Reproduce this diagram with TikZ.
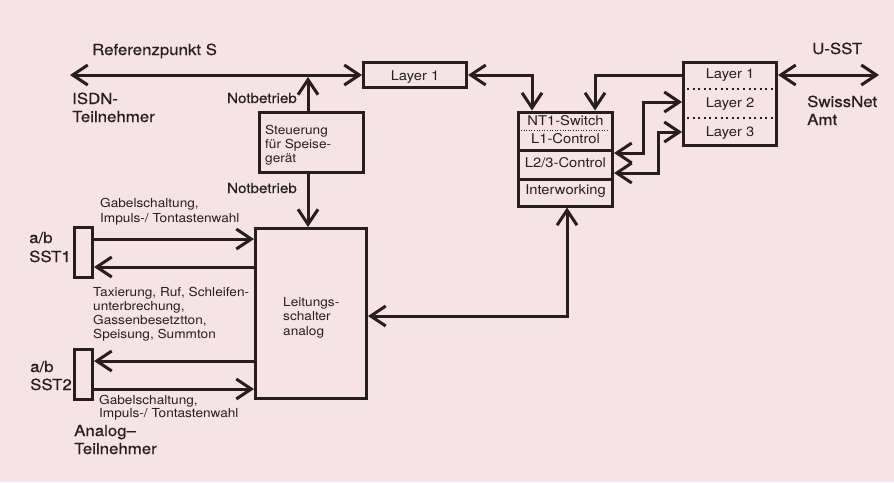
\documentclass[tikz,border=0pt]{standalone}
\usepackage{fontspec}
\setmainfont[FakeStretch=1.1]{TeX Gyre Heros}
\newfontfamily\hvmed[FakeStretch=1.1,FakeBold=0.5]{TeX Gyre Heros}
\usetikzlibrary{arrows.meta}
\definecolor{bgpink}{RGB}{246,227,230}
\definecolor{ink}{RGB}{38,30,32}
\newcommand\fbig{\hvmed\fontsize{15.3}{18}\selectfont}
\newcommand\fnot{\hvmed\fontsize{13.8}{16}\selectfont}
\newcommand\flay{\fontsize{13.4}{16}\selectfont}
\newcommand\fsml{\fontsize{12.4}{14}\selectfont}
\tikzset{
  box/.style={draw, line width=3pt, inner sep=0pt},
  txt/.style={inner sep=0pt, anchor=base west, align=left},
  ctxt/.style={inner sep=0pt, anchor=base, font=\flay},
  arr/.style={line width=3pt, -{Straight Barb[length=15pt,width=20pt]}},
  dbl/.style={line width=3pt, {Straight Barb[length=15pt,width=20pt]}-{Straight Barb[length=15pt,width=20pt]}},
  fine dots/.style={line width=1pt, dash pattern=on 1pt off 1.6pt},
  bold dots/.style={line width=2.2pt, dash pattern=on 2pt off 3.6pt},
}
\begin{document}
\begin{tikzpicture}[x=1pt,y=-1pt,color=ink]
\fill[bgpink] (0,0) rectangle (894,482);
\useasboundingbox (0,0) rectangle (894,482);

% boxes
\node[box,minimum width=103pt,minimum height=25pt] (L1) at (415,75) {};
\node[box,minimum width=104pt,minimum height=60pt] (St) at (311.5,142.5) {};
\node[box,minimum width=111pt,minimum height=170pt] (LS) at (311,313.5) {};
\node[box,minimum width=18pt,minimum height=50pt] (S1) at (83.5,252.5) {};
\node[box,minimum width=18pt,minimum height=50pt] (S2) at (83.5,374.5) {};
\node[box,minimum width=94pt,minimum height=94pt] (NT) at (565.5,159) {};
\node[box,minimum width=93pt,minimum height=83pt] (LY) at (730,104) {};

% separators
\coordinate (d1) at (565,130);
\coordinate (s1) at (565,150);
\coordinate (s2) at (565,179);
\draw[fine dots] ([xshift=4pt]NT.west |- d1) -- ([xshift=-6pt]NT.east |- d1);
\draw[line width=3pt] (NT.west |- s1) -- (NT.east |- s1);
\draw[line width=3pt] (NT.west |- s2) -- (NT.east |- s2);
\coordinate (d2) at (730,89);
\coordinate (d3) at (730,118);
\draw[bold dots] ([xshift=5pt]LY.west |- d2) -- ([xshift=-1pt]LY.east |- d2);
\draw[bold dots] ([xshift=5pt]LY.west |- d3) -- ([xshift=-1pt]LY.east |- d3);

% box texts
\node[ctxt] (tL1) at (415,80) {Layer 1};
\node[ctxt] (tY1) at (730,78) {Layer 1};
\node[ctxt] (tY2) at (730,107) {Layer 2};
\node[ctxt] (tY3) at (730,136) {Layer 3};
\node[ctxt] (tN1) at (565.5,125) {NT1-Switch};
\node[ctxt] (tN2) at (565.5,143) {L1-Control};
\node[ctxt] (tN3) at (565.5,167) {L2/3-Control};
\node[ctxt] (tN4) at (565.5,194) {Interworking};
\node[txt,font=\fontsize{12.4}{14}\selectfont] (tSt) at (265,162) {Steuerung\\für Speise-\\gerät};
\node[txt,font=\fontsize{12.4}{14.5}\selectfont] (tLS) at (283,335) {Leitungs-\\schalter\\analog};

% connectors
\coordinate (lt) at (70,75);
\draw[dbl] (lt) -- (L1.west);
\coordinate (j1) at (308,77);
\draw[arr] (St.north -| j1) -- (j1);
\draw[arr] (St.south -| j1) -- (LS.north -| j1);
\coordinate (c1) at (532,75);
\draw[dbl] (L1.east) -- (c1) -- (c1 |- NT.north);
\coordinate (c2) at (595,75);
\draw[arr] (LY.west |- c2) -- (c2) -- (c2 |- NT.north);
\coordinate (c3a) at (643,153);
\coordinate (c3b) at (643,102);
\draw[dbl] (NT.east |- c3a) -- (c3a) -- (c3b) -- (LY.west |- c3b);
\coordinate (c4a) at (658,173);
\coordinate (c4b) at (658,132);
\draw[dbl] (NT.east |- c4a) -- (c4a) -- (c4b) -- (LY.west |- c4b);
\coordinate (rt) at (879,75);
\draw[dbl] (LY.east |- rt) -- (rt);
\coordinate (c5) at (567,316);
\draw[dbl] (LS.east |- c5) -- (c5) -- (c5 |- NT.south);
\coordinate (a1) at (83,239);
\coordinate (a2) at (83,267);
\coordinate (a3) at (83,361);
\coordinate (a4) at (83,389);
\draw[arr] (S1.east |- a1) -- (LS.west |- a1);
\draw[arr] (LS.west |- a2) -- (S1.east |- a2);
\draw[arr] (LS.west |- a3) -- (S2.east |- a3);
\draw[arr] (S2.east |- a4) -- (LS.west |- a4);

% labels
\node[txt,font=\fbig] (ref) at (92,55) {Referenzpunkt S};
\node[txt,font=\fbig] (isdn) at (72,122) {ISDN-\\Teilnehmer};
\node[txt,font=\fbig] (usst) at (812,54) {U-SST};
\node[txt,font=\fbig] (swn) at (807,125) {SwissNet\\Amt};
\node[inner sep=0pt,anchor=base east,font=\fnot] (nb1) at (297,103) {Notbetrieb};
\node[inner sep=0pt,anchor=base east,font=\fnot] (nb2) at (297,193) {Notbetrieb};
\node[txt,font=\fontsize{12.4}{15.5}\selectfont] (g1) at (100,222.5) {Gabelschaltung,\\Impuls-/ Tontastenwahl};
\node[txt,font=\hvmed\fontsize{15.3}{19}\selectfont] (sst1) at (29,262) {a/b\\SST1};
\node[txt,font=\fsml] (tax) at (93,338) {Taxierung, Ruf, Schleifen-\\unterbrechung,\\Gassenbesetztton,\\Speisung, Summton};
\node[txt,font=\fbig] (sst2) at (30,390) {a/b\\SST2};
\node[txt,font=\fontsize{12.4}{13.5}\selectfont] (g2) at (99,417.5) {Gabelschaltung,\\Impuls-/ Tontastenwahl};
\node[txt,font=\fbig] (ana) at (74,454) {Analog–\\Teilnehmer};
\end{tikzpicture}
\end{document}
